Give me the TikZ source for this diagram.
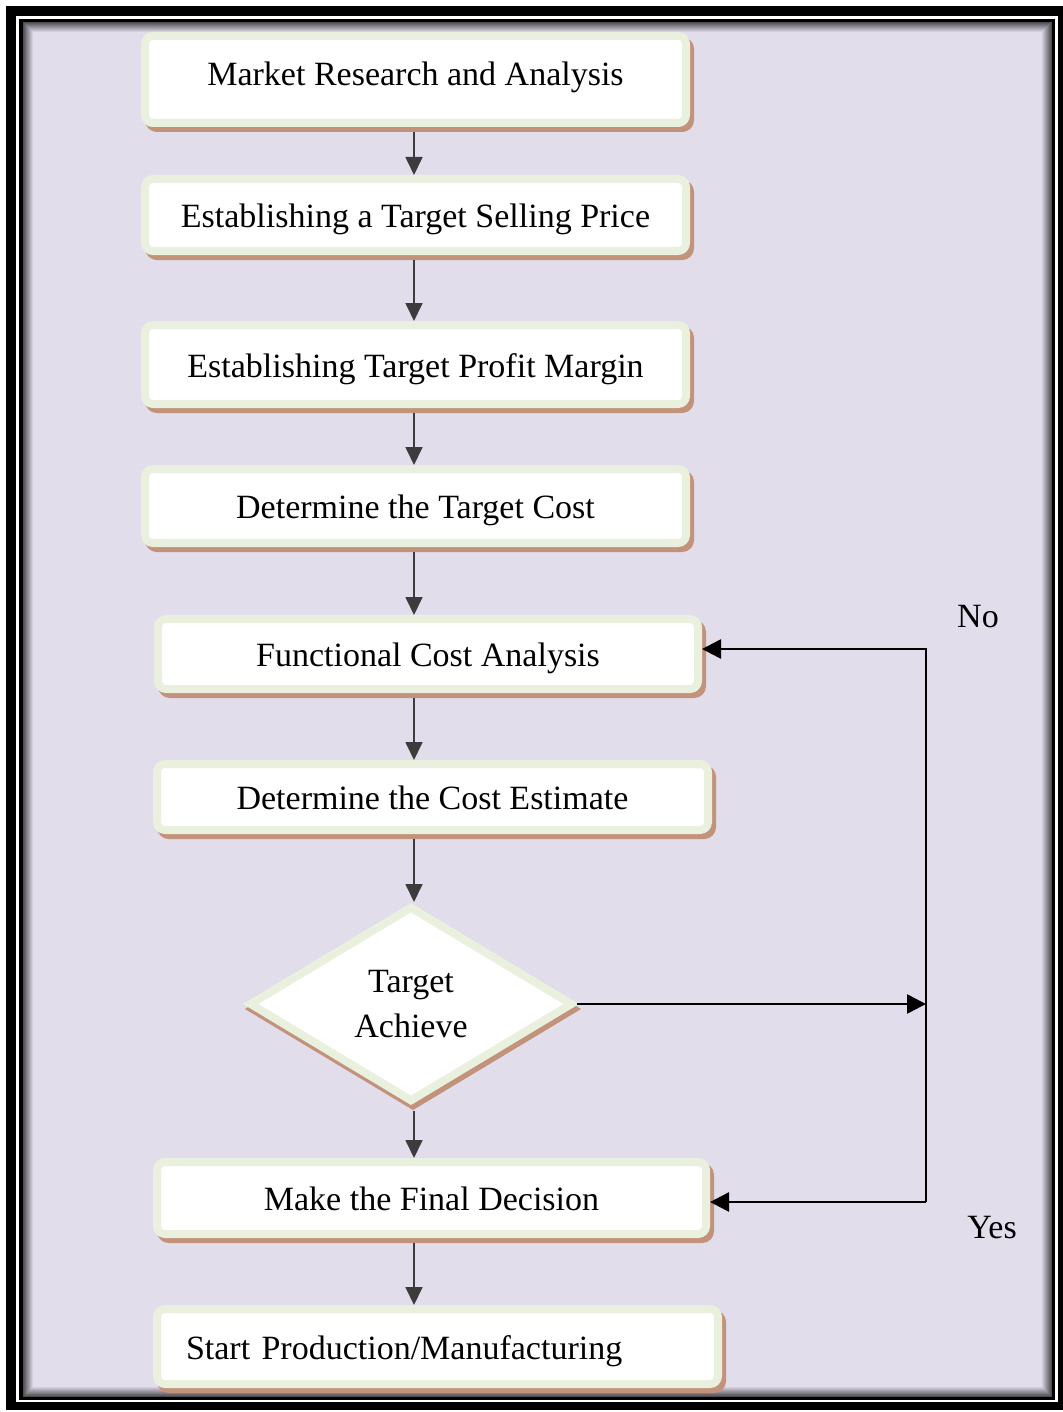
\documentclass[tikz,border=0pt]{standalone}
\usepackage{fontspec}
\setmainfont{Liberation Serif}
\usetikzlibrary{arrows.meta,shapes.geometric}

\definecolor{lav}{RGB}{226,221,235}
\definecolor{rimc}{RGB}{233,240,221}
\definecolor{shadec}{RGB}{194,146,122}
\definecolor{linkc}{RGB}{60,60,60}

\pgfdeclarelayer{frame}
\pgfsetlayers{frame,main}

\begin{document}
\begin{tikzpicture}[x=0.5pt,y=-0.5pt,
  every node/.style={font=\fontsize{17}{22.5}\selectfont, inner sep=0pt},
  stage/.style={rectangle, rounded corners=4pt, fill=white, draw=rimc, line width=4pt,
    text height=14.5pt, text depth=2pt,
    preaction={draw=shadec, fill=shadec, transform canvas={shift={(2pt,-2.5pt)}}}},
  decision/.style={diamond, fill=white, draw=rimc, line width=4pt, align=center,
    preaction={draw=shadec, fill=shadec, transform canvas={shift={(1pt,-2.5pt)}}}},
  flow/.style={draw=linkc, line width=0.9pt, -{Triangle[length=9pt,width=8.5pt]}},
  loopline/.style={draw=black, line width=1.3pt},
  looparrow/.style={loopline, -{Triangle[length=9.5pt,width=9.5pt]}},
  tag/.style={font=\fontsize{17}{20}\selectfont}
]
\useasboundingbox (0,0) rectangle (1063,1412);

% double black frame with a soft inner shading
\begin{pgfonlayer}{frame}
  \fill[white] (0,0) rectangle (1063,1412);
  \fill[black] (6,6) rectangle (1063,1410);
  \fill[white] (16,16) rectangle (1058,1402);
  \fill[black] (19,19) rectangle (1055,1400);
  \fill[lav] (23,22) rectangle (1052,1397);
  \foreach \i in {0,...,9}{
    \pgfmathtruncatemacro\p{35+\i*6.5}
    \draw[lav!\p!black, line width=0.5pt] (23.5+\i,22.5+\i) rectangle (1051.5-\i,1396.5-\i);
  }
\end{pgfonlayer}

% process stages
\node[stage, minimum width=270.5pt, minimum height=43.5pt, text height=11pt, text depth=5pt] (s1) at (415.5,79.5) {Market Research and Analysis};
\node[stage, minimum width=270.5pt, minimum height=36pt] (s2) at (415.5,215) {Establishing a Target Selling Price};
\node[stage, minimum width=270.5pt, minimum height=39.5pt] (s3) at (415.5,364.5) {Establishing Target Profit Margin};
\node[stage, minimum width=270.5pt, minimum height=37pt] (s4) at (415.5,506) {Determine the Target Cost};
\node[stage, minimum width=270pt, minimum height=35pt] (s5) at (428,654) {Functional Cost Analysis};
\node[stage, minimum width=275.5pt, minimum height=33pt] (s6) at (432.5,797) {Determine the Cost Estimate};
\node[decision, minimum width=162pt, minimum height=98pt] (dec) at (411,1004) {Target\\Achieve};
\node[stage, minimum width=274.5pt, minimum height=36pt] (s8) at (431.5,1198) {Make the Final Decision};
\node[stage, text width=251.5pt, inner xsep=14.5pt, align=left, minimum height=37.5pt] (s9) at (437.5,1346.5) {Start Production/Manufacturing};

% main flow
\coordinate (axis) at (414,0);
\foreach \a/\b in {s1/s2,s2/s3,s3/s4,s4/s5,s5/s6,s6/dec,dec/s8,s8/s9}
  \draw[flow] ([yshift=-2.5pt]\a.south -| axis) -- (\b.north -| axis);

% feedback loop
\coordinate (jt) at (926,649);
\coordinate (jb) at (926,1202);
\draw[looparrow] (dec.east) -- (dec.east -| jt);
\draw[looparrow] (jb) -- (jt) -- (jt -| s5.east);
\draw[looparrow] (jb) -- (jb -| s8.east);

\node[tag] (no) at (978,617) {No};
\node[tag] (yes) at (992,1228) {Yes};
\end{tikzpicture}
\end{document}
